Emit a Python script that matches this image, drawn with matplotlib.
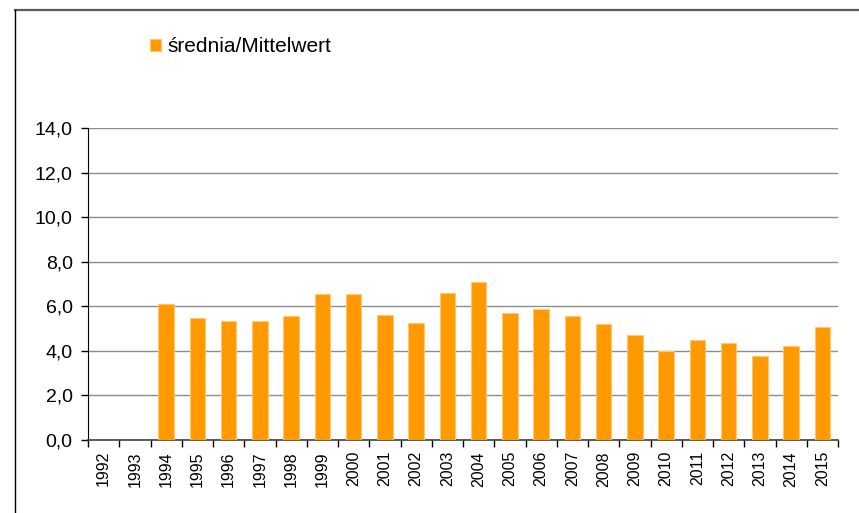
import numpy as np
import matplotlib.pyplot as plt
from matplotlib.lines import Line2D

plt.rcParams['font.family'] = ['Liberation Sans', 'DejaVu Sans']

years = [str(y) for y in range(1992, 2016)]
# 1992 and 1993 have no value
mean_values = [np.nan, np.nan, 6.12, 5.46, 5.36, 5.36, 5.58, 6.55, 6.55, 5.63,
               5.24, 6.61, 7.10, 5.69, 5.90, 5.58, 5.19, 4.70, 3.99, 4.48,
               4.37, 3.78, 4.21, 5.07]
series_label = "średnia/Mittelwert"
y_ticks = [0, 2, 4, 6, 8, 10, 12, 14]

W, H = 859, 513
fig = plt.figure(figsize=(W / 100, H / 100), dpi=100)
ax = fig.add_axes([88 / W, 1 - 440 / H, (838 - 88) / W, (440 - 128) / H])

x = np.arange(len(years))
ax.bar(x, mean_values, width=0.5, color='#ff9900', edgecolor='#ffc870',
       linewidth=0.8, label=series_label, zorder=3)

ax.set_xlim(-0.5, len(years) - 0.5)
ax.set_ylim(0, 14)
ax.set_yticks(y_ticks)
ax.set_yticklabels([f"{v:.1f}".replace('.', ',') for v in y_ticks], fontsize=14)
ax.yaxis.grid(True, color='#8c8c8c', linewidth=1.0, zorder=0)
ax.tick_params(axis='y', direction='out', length=5, width=1, pad=6)

ax.set_xticks(x)
ax.set_xticklabels(years, rotation=90, fontsize=11.5)
ax.tick_params(axis='x', which='major', length=0, pad=8)
ax.set_xticks(np.arange(len(years) + 1) - 0.5, minor=True)
ax.tick_params(axis='x', which='minor', direction='out', length=5, width=1)

for s in ['top', 'right']:
    ax.spines[s].set_visible(False)
ax.spines['left'].set_color('black')
ax.spines['bottom'].set_color('#404040')
ax.spines['bottom'].set_linewidth(1.2)

fig.legend(loc='center left', bbox_to_anchor=(150 / W, 1 - 47 / H),
           frameon=False, fontsize=15, handlelength=0.55, handleheight=0.55,
           handletextpad=0.3, borderpad=0, borderaxespad=0)

# chart area frame (only top and left edges are visible)
fig.add_artist(Line2D([15 / W, 1.0], [1 - 10 / H, 1 - 10 / H],
                      transform=fig.transFigure, color='#5a5a5a', linewidth=1.6))
fig.add_artist(Line2D([15 / W, 15 / W], [0, 1 - 10 / H],
                      transform=fig.transFigure, color='black', linewidth=1.0))

fig.savefig('out.png', dpi=100)
